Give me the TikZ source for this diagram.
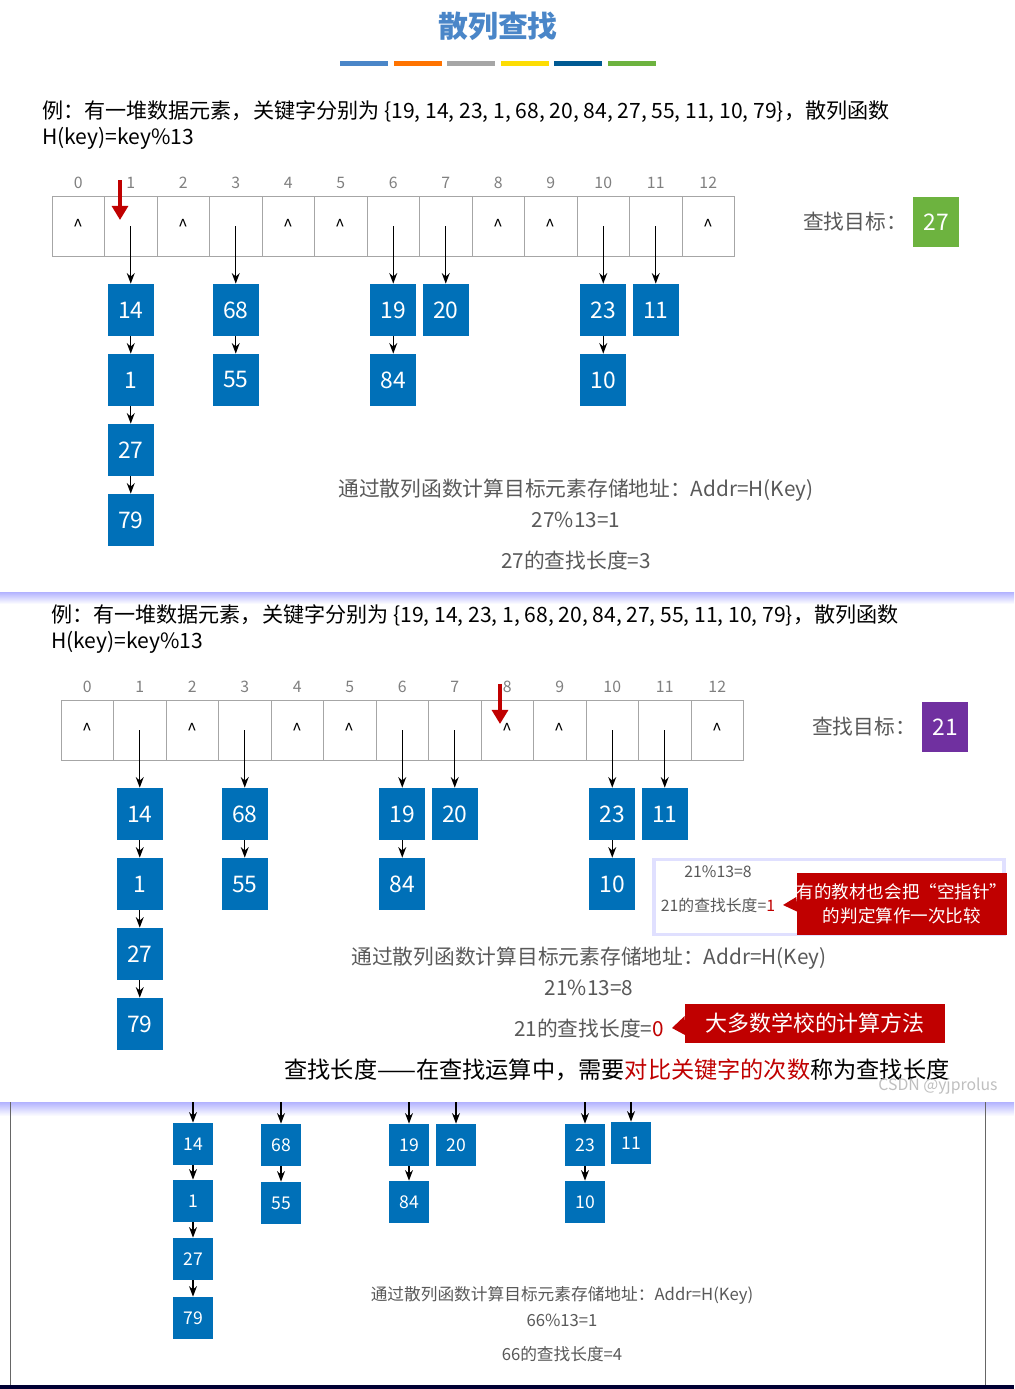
\documentclass[tikz,border=0pt]{standalone}
\usepackage{fontspec}
\setmainfont{Noto Sans CJK SC}
\usetikzlibrary{arrows.meta}
\definecolor{keyblue}{HTML}{0070B8}
\definecolor{titleblue}{HTML}{4A86C8}
\definecolor{txtgray}{HTML}{595959}
\definecolor{hintred}{HTML}{C00000}
\definecolor{goalgreen}{HTML}{6DB33F}
\definecolor{goalpurple}{HTML}{7030A0}
\tikzset{
  cellbox/.style={draw=gray!70, minimum width=1.05cm, minimum height=1.2cm, inner sep=0pt},
  idx/.style={text=gray, font=\fontsize{9}{10}\selectfont},
  keybox/.style={fill=keyblue, text=white, minimum width=0.92cm, minimum height=1.04cm, inner sep=0pt, font=\fontsize{13}{15}\selectfont},
  smallkey/.style={fill=keyblue, text=white, minimum width=0.8cm, minimum height=0.84cm, inner sep=0pt, font=\fontsize{10}{12}\selectfont},
  link/.style={-{Stealth[length=6pt]}, thick},
  note/.style={text=txtgray, font=\fontsize{11.8}{14}\selectfont},
  hint/.style={fill=hintred, text=white, inner sep=0pt, font=\fontsize{10}{14}\selectfont, align=center}
}
% one table with its chains, #1 = name prefix
\newcommand\hashtable[1]{%
  \foreach \i in {0,...,12} {
    \node[cellbox] (#1c\i) at ({78.25+52.5*\i},226) {};
    \node[idx] at ({78.25+52.5*\i},183) {\i};
  }
  \foreach \i in {0,2,4,5,8,9,12}
    {\node at (#1c\i) {\textasciicircum};}
  \foreach \c/\k/\r in {1/14/0,1/1/1,1/27/2,1/79/3,3/68/0,3/55/1,6/19/0,6/84/1,7/20/0,10/23/0,10/10/1,11/11/0}
    {\node[keybox] (#1k\k) at ({78.25+52.5*\c},{310+70*\r}) {\k};}
  \foreach \c/\k in {1/14,3/68,6/19,7/20,10/23,11/11}
    {\draw[link] (#1c\c.center) -- (#1k\k);}
  \foreach \a/\b in {14/1,1/27,27/79,68/55,19/84,23/10}
    {\draw[link] (#1k\a) -- (#1k\b);}
}
\begin{document}
\begin{tikzpicture}[x=0.02cm, y=-0.02cm]
  \useasboundingbox (0,0) rectangle (1014,1389);
  \fill[white] (0,0) rectangle (1014,1389);

  % title
  \node[text=titleblue, font=\fontsize{17}{20}\selectfont\bfseries] (title) at (498,26) {散列查找};
  \foreach \col [count=\n from 0] in {titleblue,orange!90!red,gray!70,yellow!80!orange,keyblue!80!black,goalgreen}
    {\fill[\col] ({340+53.5*\n},61) rectangle ++(48,5);}

  % panel 1
  \node[anchor=west, font=\fontsize{12}{14}\selectfont, align=left] (ex1) at (36,125)
    {例：有一堆数据元素，关键字分别为 \{19, 14, 23, 1, 68, 20, 84, 27, 55, 11, 10, 79\}，散列函数\\[1pt] H(key)=key\%13};
  \hashtable{a}
  \coordinate (ptr1) at (120,180);
  \draw[-{Triangle[length=8pt,width=9pt]}, hintred, line width=2.5pt] (ptr1) -- ++(0,40);
  \node[note] (goal1) at (855,222) {查找目标：};
  \node[fill=goalgreen, text=white, minimum width=0.92cm, minimum height=1cm, font=\fontsize{13}{15}\selectfont] (t1) at (936,222) {27};
  \node[note] (addr1) at (576,490) {通过散列函数计算目标元素存储地址：Addr=H(Key)};
  \node[note] (mod1) at (576,520) {27\%13=1};
  \node[note] (len1) at (576,561) {27的查找长度=3};

  \shade[top color=blue!30, bottom color=white] (0,592) rectangle (1014,604);

  % panel 2
  \node[anchor=west, font=\fontsize{12}{14}\selectfont, align=left] (ex2) at (45,629)
    {例：有一堆数据元素，关键字分别为 \{19, 14, 23, 1, 68, 20, 84, 27, 55, 11, 10, 79\}，散列函数\\[1pt] H(key)=key\%13};
  \begin{scope}[shift={(9,504)}]
    \hashtable{b}
  \end{scope}
  \coordinate (ptr2) at (500,684);
  \draw[-{Triangle[length=8pt,width=9pt]}, hintred, line width=2.5pt] (ptr2) -- ++(0,40);
  \node[note] (goal2) at (864,727) {查找目标：};
  \node[fill=goalpurple, text=white, minimum width=0.92cm, minimum height=1cm, font=\fontsize{13}{15}\selectfont] (t2) at (945,727) {21};

  \node[fill=white, draw=blue!12, line width=2pt, minimum width=7cm, minimum height=1.5cm] (popup) at (829,897) {};
  \node[text=txtgray, font=\fontsize{9}{11}\selectfont] (mod2b) at (718,872) {21\%13=8};
  \node[text=txtgray, font=\fontsize{9}{11}\selectfont] (len2b) at (718,905) {21的查找长度=\textcolor{hintred}{1}};
  \node[hint, minimum width=4.16cm, minimum height=1.24cm] (hint1) at (902,904) {有的教材也会把“空指针”\\的判定算作一次比较};
  \fill[hintred] (hint1.west) ++(0,-7) -- (783,905) -- ++(15,7) -- cycle;

  \node[note] (addr2) at (589,958) {通过散列函数计算目标元素存储地址：Addr=H(Key)};
  \node[note] (mod2) at (589,988) {21\%13=8};
  \node[note] (len2) at (589,1029) {21的查找长度=\textcolor{hintred}{0}};
  \node[hint, minimum width=5.2cm, minimum height=0.78cm, font=\fontsize{12.5}{14}\selectfont] (hint2) at (815,1023) {大多数学校的计算方法};
  \fill[hintred] (hint2.west) ++(0,-7) -- (672,1028) -- ++(13,7) -- cycle;
  \node[font=\fontsize{13.2}{15}\selectfont] (def) at (617,1070) {查找长度——在查找运算中，需要\textcolor{hintred}{对比关键字的次数}称为查找长度};
  \node[text=gray!50, font=\fontsize{9}{11}\selectfont] (mark) at (938,1086) {CSDN @yjprolus};

  \shade[top color=blue!30, bottom color=white] (0,1102) rectangle (1014,1116);

  % panel 3, cut off at the top
  \draw[gray!80!black] (10,1102) -- (10,1386) (985,1102) -- (985,1386);
  \foreach \x/\k/\y in {193/14/1144,193/1/1201,193/27/1259,193/79/1318,281/68/1145,281/55/1203,409/19/1145,409/84/1202,456/20/1145,585/23/1145,585/10/1202,631/11/1143}
    {\node[smallkey] (c\k) at (\x,\y) {\k};}
  \foreach \k/\x in {14/193,68/281,19/409,20/456,23/585,11/631}
    {\coordinate (top\k) at (\x,1102);
     \draw[link] (top\k) -- (c\k);}
  \foreach \a/\b in {14/1,1/27,27/79,68/55,19/84,23/10}
    {\draw[link] (c\a) -- (c\b);}
  \node[text=txtgray, font=\fontsize{9.5}{11}\selectfont] (addr3) at (562,1295) {通过散列函数计算目标元素存储地址：Addr=H(Key)};
  \node[text=txtgray, font=\fontsize{9.5}{11}\selectfont] (mod3) at (562,1320) {66\%13=1};
  \node[text=txtgray, font=\fontsize{9.5}{11}\selectfont] (len3) at (562,1354) {66的查找长度=4};
  \fill[black!80!blue] (0,1385) rectangle (1014,1389);
\end{tikzpicture}
\end{document}
